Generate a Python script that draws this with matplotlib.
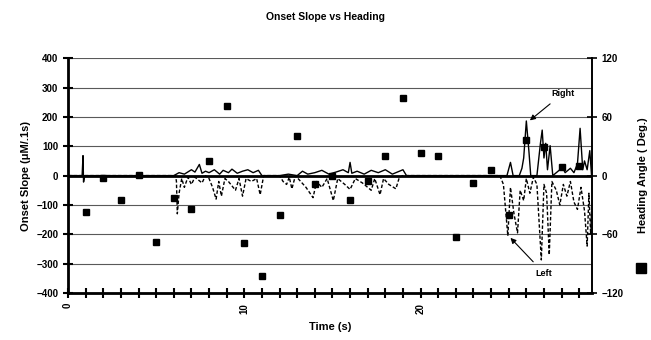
import matplotlib
matplotlib.use("Agg")
import matplotlib.pyplot as plt
from matplotlib.lines import Line2D
from matplotlib.ticker import MultipleLocator

plt.rcParams["font.family"] = ["Liberation Sans", "DejaVu Sans"]
plt.rcParams["font.weight"] = "bold"

# onset slope traces (uM/.1s)
right_t = [0, 0.8, 0.85, 0.88, 0.95, 6.0, 6.3, 6.6, 7.0, 7.2, 7.45, 7.6, 7.8, 8.0, 8.3,
           8.6, 8.8, 9.1, 9.3, 9.6, 9.9, 10.2, 10.5, 10.8, 11.0, 11.5, 12.0, 12.5, 13.0,
           13.3, 13.6, 14.0, 14.4, 14.8, 15.2, 15.6, 15.9, 16.0, 16.1, 16.4, 16.8, 17.2,
           17.6, 18.0, 18.4, 18.8, 19.0, 19.2, 24.5, 24.9, 25.1, 25.25, 25.6, 25.75, 25.85,
           26.0, 26.15, 26.25, 26.6, 26.8, 26.9, 27.0, 27.1, 27.2, 27.35, 27.5, 27.9, 28.0,
           28.2, 28.5, 28.7, 28.9, 29.05, 29.2, 29.3, 29.45, 29.6, 29.7]
right_v = [0, 0, 68, -22, 0, 0, 10, 5, 20, 12, 38, 8, 15, 10, 20,
           5, 18, 10, 22, 8, 15, 20, 10, 18, 0, 0, 0, 5, 0,
           15, 5, 10, 18, 5, 12, 20, 10, 45, 8, 15, 5, 18,
           10, 20, 5, 15, 20, 0, 0, 0, 45, 0, 0, 25, 60,
           186, 80, 0, 0, 110, 155, 60, 110, 20, 102, 0, 20, 35,
           10, 25, 10, 40, 161, 20, 50, 20, 85, 0]

left_t = [0, 6.1, 6.15, 6.2, 6.3, 6.45, 6.6, 6.8, 7.0, 7.2, 7.6, 7.8, 8.0, 8.2, 8.4,
          8.55, 8.7, 8.9, 9.1, 9.3, 9.5, 9.7, 9.9, 10.1, 10.4, 10.7, 10.9, 11.1, 12.0,
          12.2, 12.4, 12.55, 12.7, 12.9, 13.2, 13.5, 13.9, 14.1, 14.4, 14.7, 15.05, 15.3,
          15.7, 16.0, 16.3, 16.7, 17.2, 17.4, 17.7, 17.9, 18.2, 18.6, 18.8, 19.0, 24.5,
          24.7, 24.95, 25.1, 25.3, 25.5, 25.65, 25.85, 26.0, 26.2, 26.4, 26.6, 26.85, 27.0,
          27.15, 27.3, 27.45, 27.7, 27.9, 28.1, 28.3, 28.5, 28.7, 28.9, 29.1, 29.3, 29.45,
          29.55, 29.65, 29.7]
left_v = [0, 0, -20, -130, -60, -10, -40, -5, -30, -5, -25, 0, -10, -40, -80,
          -20, -70, -10, -20, -35, -50, -10, -70, -10, -20, -10, -65, 0, 0,
          -20, -30, -5, -45, 0, -20, -40, -75, -20, -40, -10, -85, -10,
          -30, -47, -10, -25, -50, -10, -65, -10, -30, -45, -5, 0, 0,
          -30, -205, -40, -130, -195, -50, -85, -10, -60, -5, -30, -287, -30,
          -60, -270, -20, -50, -100, -30, -70, -20, -90, -115, -40, -120, -240,
          -60, -200, -120]

# heading angle (deg), one per second
heading_t = list(range(1, 30))
heading_deg = [-37, -2, -25, 1, -68, -23, -34, 15, 71, -69, -103, -40, 40, -9, 0,
               -25, -5, 20, 79, 23, 20, -63, -8, 6, -40, 36, 29, 9, 10]

slope_ticks = [-400, -300, -200, -100, 0, 100, 200, 300, 400]
angle_ticks = [-120, -60, 0, 60, 120]

fig = plt.figure(figsize=(6.51, 3.40), dpi=100)
ax = fig.add_axes([0.1045, 0.138, 0.805, 0.691])

for y in slope_ticks:
    if y == 0:
        ax.axhline(y, color="black", lw=2.0, zorder=1)
    else:
        ax.axhline(y, color="0.35", lw=0.8, zorder=1)

ax.plot(right_t, right_v, color="black", lw=1.0, zorder=3)
ax.plot(left_t, left_v, color="black", lw=1.0, ls=(0, (2.5, 1.5)), zorder=3)

ax.set_xlim(0, 29.73)
ax.set_ylim(-400, 400)
ax.set_yticks(slope_ticks)
ax.set_xticks([0, 10, 20])
ax.xaxis.set_minor_locator(MultipleLocator(1))
ax.tick_params(axis="both", which="both", direction="inout", width=1.5, labelsize=7)
ax.tick_params(axis="y", length=7)
ax.tick_params(axis="x", which="both", length=7)
for lab in ax.get_xticklabels():
    lab.set_rotation(90)

ax.spines["top"].set_visible(False)
ax.spines["left"].set_linewidth(2.0)
ax.spines["bottom"].set_linewidth(2.0)
ax.spines["right"].set_linewidth(1.2)

ax.set_xlabel("Time (s)", fontsize=8, fontweight="bold", labelpad=6)
ax.set_ylabel("Onset Slope (\u03bcM/.1s)", fontsize=8, fontweight="bold", labelpad=4)

ax2 = ax.twinx()
ax2.set_ylim(-120, 120)
ax2.set_yticks(angle_ticks)
ax2.tick_params(axis="y", direction="inout", length=7, width=1.2, labelsize=7)
ax2.spines["top"].set_visible(False)
ax2.spines["right"].set_linewidth(1.2)
ax2.plot(heading_t, heading_deg, ls="none", marker="s", ms=5, color="black", zorder=4)
ax2.set_ylabel("Heading Angle ( Deg.)", fontsize=8, fontweight="bold", labelpad=10)

ax.annotate("Right", xy=(26.2, 188), xytext=(28.1, 281), fontsize=6.5, fontweight="bold",
            ha="center", va="center",
            arrowprops=dict(arrowstyle="-|>", color="black", lw=0.8, mutation_scale=8,
                            shrinkA=4, shrinkB=0))
ax.annotate("Left", xy=(25.1, -212), xytext=(27.0, -332), fontsize=6.5, fontweight="bold",
            ha="center", va="center",
            arrowprops=dict(arrowstyle="-|>", color="black", lw=0.8, mutation_scale=8,
                            shrinkA=4, shrinkB=0))

fig.add_artist(Line2D([641 / 651], [1 - 268 / 340], marker="s", ms=7, color="black",
                      ls="none", transform=fig.transFigure))

fig.text(0.5, 1 - 17 / 340, "Onset Slope vs Heading", ha="center", va="center",
         fontsize=7.5, fontweight="bold")

fig.savefig("out.png", dpi=100)
